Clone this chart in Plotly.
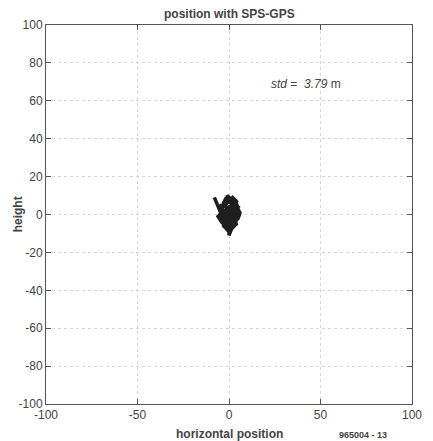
import plotly.graph_objects as go

# trajectory of position error (m)
track_x = [-8, -7, -6, -5, -3, -4, -2, 0, 2, 1, 0, 0, 2, 4, 3, 5, 3, 1, -1, -1, -3, -5, -4, -6,
           -4, -1, 1, 3, 4, 2, -1, -3, -2, 0, 2, 4, 2, 0, -2, -4, -2, 0, 3, 5, 4, 1, -2, -3,
           -1, 1, 2, 0, -3, -5, -3, 0, 3, 5, 2, -1, -3, -2, 1, 3, 1, -1, -2, 0, 1, -1, 0,
           3, 5, 6, 4, 2, -1, -4, -5, -3, -1, 2, 4, 3, 0, -2, -4, -3, 0, 2, 5, 4, 1]
track_y = [9, 7, 5, 2, 0, -3, -5, -3, -6, -9, -11, -7, -3, -1, 2, 4, 6, 8, 10, 6, 4, 5, 1, -1,
           -4, -2, 0, -2, -5, -7, -6, -2, 2, 4, 5, 7, 9, 7, 5, 3, 1, 2, 3, 1, -2, -3, -3, -6,
           -8, -5, -1, 1, 1, -2, -4, -1, 0, 2, 4, 3, 6, 8, 6, 4, 1, -1, -4, -2, 3, 2, 0,
           -4, -2, 1, 5, 8, 6, 3, 0, -3, -5, -4, -2, 0, -1, 1, -1, -5, -3, 2, 3, 6, 5]

x_ticks = [-100, -50, 0, 50, 100]
y_ticks = [-100, -80, -60, -40, -20, 0, 20, 40, 60, 80, 100]

title_text = "position with SPS-GPS"
x_label = "horizontal position"
y_label = "height"
std_text = "<i>std</i> =  <i>3.79</i> m"
std_pos = (42, 69)
fig_code = "965004 - 13"

FONT = "Liberation Sans, Arial, sans-serif"
TXT = "#444444"

fig = go.Figure()
fig.add_trace(go.Scatter(x=track_x, y=track_y, mode="lines",
                         line=dict(color="#1e1e1e", width=3.5), hoverinfo="skip",
                         showlegend=False))

axis_common = dict(showline=True, linecolor="#555555", linewidth=1, mirror="ticks",
                   ticks="inside", ticklen=5, tickcolor="#555555",
                   showgrid=True, gridcolor="#d6d6d6", griddash="dot", gridwidth=1,
                   zeroline=False, tickfont=dict(family=FONT, size=12, color=TXT))

fig.update_xaxes(range=[-100, 100], tickvals=x_ticks, ticktext=[str(v) for v in x_ticks],
                 **axis_common)
fig.update_yaxes(range=[-100, 100], tickvals=y_ticks, ticktext=[str(v) for v in y_ticks],
                 **axis_common)

fig.add_annotation(x=std_pos[0], y=std_pos[1], xref="x", yref="y", text=std_text,
                   showarrow=False, font=dict(family=FONT, size=12, color=TXT))
fig.add_annotation(x=0.5, y=1.029, xref="paper", yref="paper", text=title_text,
                   showarrow=False, yanchor="middle",
                   font=dict(family=FONT, size=12, color=TXT, weight="bold"))
fig.add_annotation(x=0.5, y=-0.079, xref="paper", yref="paper", text=x_label,
                   showarrow=False, yanchor="middle",
                   font=dict(family=FONT, size=12, color=TXT, weight="bold"))
fig.add_annotation(x=-0.077, y=0.5, xref="paper", yref="paper", text=y_label,
                   showarrow=False, textangle=-90, xanchor="center",
                   font=dict(family=FONT, size=12, color=TXT, weight="bold"))
fig.add_annotation(x=0.937, y=-0.081, xref="paper", yref="paper", text=fig_code,
                   showarrow=False, yanchor="middle",
                   font=dict(family=FONT, size=9, color=TXT, weight="bold"))

fig.update_layout(width=433, height=441, margin=dict(l=46, r=11, t=25, b=37),
                  paper_bgcolor="white", plot_bgcolor="white")

fig.write_html("out.html")
